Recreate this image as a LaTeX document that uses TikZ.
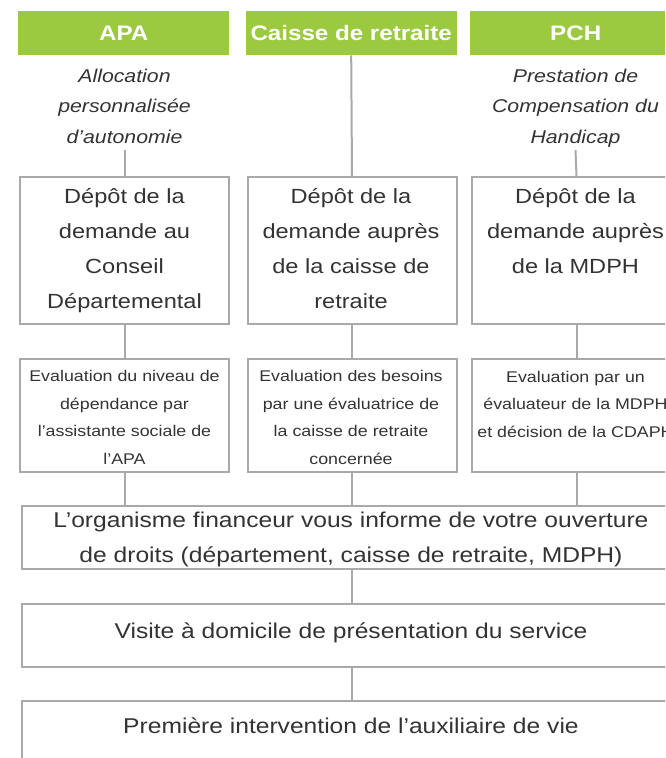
\documentclass[tikz,border=0pt]{standalone}
\usepackage{fontspec}
\setmainfont{Liberation Sans}[FakeStretch=1.15]
\definecolor{hdrgreen}{HTML}{9BC93F}
\definecolor{boxgray}{HTML}{A9A9A9}
\definecolor{txt}{HTML}{333333}
\begin{document}
\begin{tikzpicture}[x=1pt,y=-1pt,
  hdr/.style={fill=hdrgreen, draw=none, minimum width=211pt, minimum height=44pt,
    anchor=north west, inner sep=0pt, text=white,
    font=\fontsize{21}{21}\selectfont\bfseries},
  frame/.style={draw=boxgray, line width=2pt, anchor=north west, inner sep=0pt},
  colbox/.style={frame, minimum width=209pt},
  wide/.style={frame, minimum width=660pt, minimum height=63pt},
  lbl/.style={anchor=base, align=center, inner sep=0pt, text=txt},
  big/.style={font=\fontsize{20.5}{35}\selectfont},
  bottom/.style={font=\fontsize{21.4}{35}\selectfont},
  small/.style={font=\fontsize{15.5}{27.4}\selectfont},
  ital/.style={font=\fontsize{18.5}{30.5}\selectfont\itshape},
  link/.style={draw=boxgray, line width=2pt}]
\useasboundingbox (0,0) rectangle (665,758);
\clip (0,0) rectangle (665,758);

% headers
\node[hdr] (hA) at (18,11) {APA};
\node[hdr] (hC) at (245.5,11) {Caisse de retraite};
\node[hdr] (hP) at (470,11) {PCH};

% italic subtitles (anchor base = last line)
\node[lbl,ital] (iA) at (124.5,143) {Allocation\\personnalisée\\d’autonomie};
\node[lbl,ital] (iP) at (575.5,143) {Prestation de\\Compensation du\\Handicap};
\coordinate (cA) at (124.5,150);
\coordinate (cP) at (575.5,150);

% depot boxes
\node[colbox, minimum height=147pt] (dA) at (19,176) {};
\node[colbox, minimum height=147pt] (dC) at (246.5,176) {};
\node[colbox, minimum height=147pt] (dP) at (471,176) {};
\node[lbl,big] (dAt) at (124.5,308) {Dépôt de la\\demande au\\Conseil\\Départemental};
\node[lbl,big] (dCt) at (351,308) {Dépôt de la\\demande auprès\\de la caisse de\\retraite};
\node[lbl,big] (dPt) at (575.5,273) {Dépôt de la\\demande auprès\\de la MDPH};

% evaluation boxes
\node[colbox, minimum height=113pt] (eA) at (19,358) {};
\node[colbox, minimum height=113pt] (eC) at (246.5,358) {};
\node[colbox, minimum height=113pt] (eP) at (471,358) {};
\node[lbl,small] (eAt) at (124.5,464) {Evaluation du niveau de\\dépendance par\\l’assistante sociale de\\l’APA};
\node[lbl,small] (eCt) at (351,464) {Evaluation des besoins\\par une évaluatrice de\\la caisse de retraite\\concernée};
\node[lbl,small] (ePt) at (575.5,437) {Evaluation par un\\évaluateur de la MDPH\\et décision de la CDAPH};

% bottom boxes
\node[wide] (org) at (21,505) {};
\node[wide] (vis) at (21,603) {};
\node[frame, minimum width=660pt, minimum height=90pt] (prem) at (21,700) {};
\node[lbl,bottom] (orgt) at (351,562) {L’organisme financeur vous informe de votre ouverture\\de droits (département, caisse de retraite, MDPH)};
\node[lbl,bottom] (vist) at (351,638.5) {Visite à domicile de présentation du service};
\node[lbl,bottom] (premt) at (351,733.5) {Première intervention de l’auxiliaire de vie};

% connectors
\draw[link] (cA) -- (dA.north);
\draw[link] (hC.south) -- (dC.north);
\draw[link] (cP) -- (dP.north);
\draw[link] (dA.south) -- (eA.north);
\draw[link] (dC.south) -- (eC.north);
\draw[link] (dP.south) -- (eP.north);
\draw[link] (eA.south) -- (eA.south |- org.north);
\draw[link] (eC.south) -- (eC.south |- org.north);
\draw[link] (eP.south) -- (eP.south |- org.north);
\draw[link] (org.south) -- (vis.north);
\draw[link] (vis.south) -- (prem.north);
\end{tikzpicture}
\end{document}
